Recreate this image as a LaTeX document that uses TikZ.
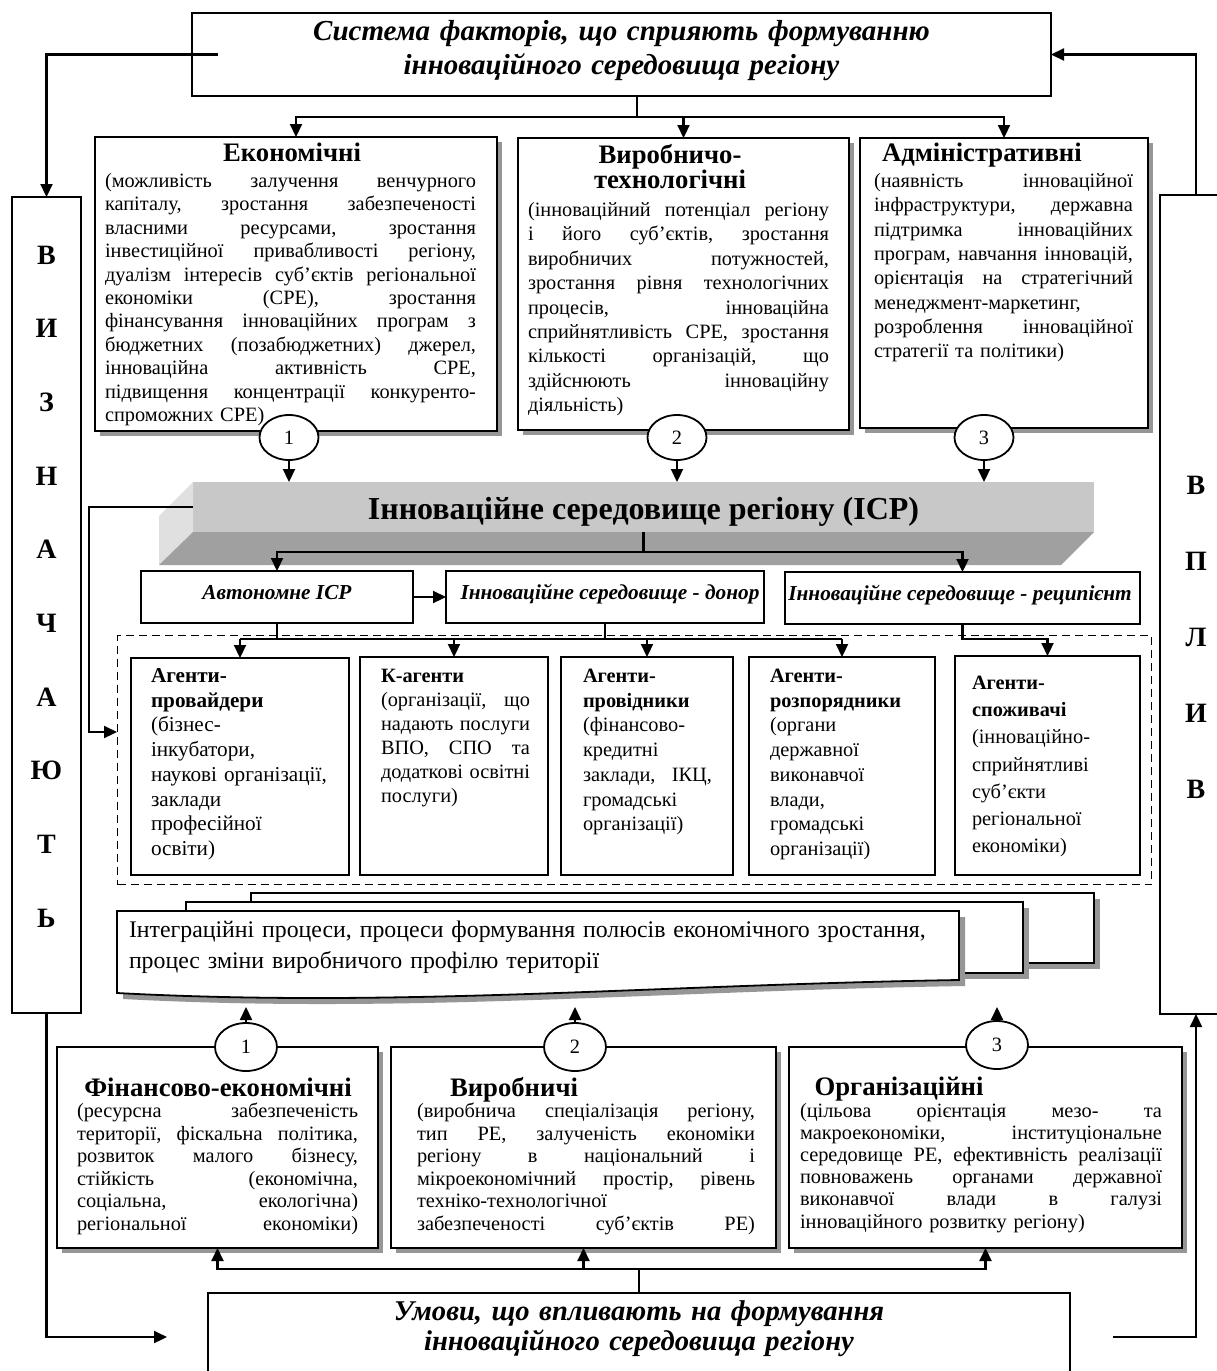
\documentclass[tikz,border=0pt]{standalone}
\usepackage{fontspec}
\setmainfont{Liberation Serif}
\usetikzlibrary{arrows.meta,shapes.geometric,shadows}
\definecolor{icpfront}{RGB}{200,200,200}
\definecolor{icpside}{RGB}{224,224,224}
\definecolor{icpbottom}{RGB}{160,160,160}
\definecolor{shgray}{RGB}{150,150,150}
\newlength\jw
\newcommand\jl[1]{\leavevmode\hbox to\jw{\frenchspacing\spaceskip=0.25em plus 1fil\relax #1}}
\newcommand\fBody{\fontsize{20.35}{23.4}\selectfont}
\newcommand\fAg{\fontsize{20.35}{24.7}\selectfont}
\newcommand\fHead{\fontsize{26.7}{25}\selectfont\bfseries}
\newcommand\fTitle{\fontsize{29}{34}\selectfont\bfseries\itshape}
\newcommand\fLev{\fontsize{21.3}{24}\selectfont\bfseries\itshape}
\newcommand\fICP{\fontsize{32}{36}\selectfont\bfseries}
\begin{document}
\begin{tikzpicture}[x=1pt,y=-1pt,
  boxst/.style={draw, line width=1.8pt, fill=white, inner sep=0pt, outer sep=0pt, anchor=north west},
  sbox/.style={boxst, drop shadow={shadow xshift=5pt, shadow yshift=-5pt, fill=shgray, opacity=1}},
  conn/.style={line width=2.2pt},
  arr/.style={conn, -{Triangle[length=13pt,width=12pt]}},
  txt/.style={inner sep=0pt, outer sep=0pt, align=left, font=\fBody, anchor=base west},
  ctxt/.style={inner sep=0pt, outer sep=0pt, align=center, anchor=base},
  num/.style={draw, ellipse, line width=1.8pt, fill=white, inner sep=0pt, font=\fBody},
]
\useasboundingbox (0,0) rectangle (1216,1371);
\fill[white] (0,0) rectangle (1216,1371);

% ---------- top title box and side boxes
\node[boxst, minimum width=859, minimum height=83] (top) at (192,13) {};
\node[ctxt, text width=850, font=\fTitle] (toptxt) at (621.5,40)
  {Система факторів, що сприяють формуванню\\ інноваційного середовища регіону};
\node[boxst, minimum width=69, minimum height=816] (vleft) at (12,197) {};
\node[boxst, minimum width=72, minimum height=819] (vright) at (1160,195) {};
\node[ctxt, text width=60, font=\fontsize{28}{73.7}\selectfont\bfseries] (lefttxt) at (46.5,264)
  {В\\И\\З\\Н\\А\\Ч\\А\\Ю\\Т\\Ь};
\node[ctxt, text width=60, font=\fontsize{28}{76}\selectfont\bfseries] (righttxt) at (1196,494)
  {В\\П\\Л\\И\\В};

% ---------- factor boxes
\node[sbox, minimum width=402, minimum height=294] (eco) at (95,137) {};
\node[sbox, minimum width=331, minimum height=292] (vyr) at (518,138) {};
\node[sbox, minimum width=288, minimum height=290] (adm) at (860,138) {};

\node[ctxt, font=\fHead] (ecohead) at (292,161) {Економічні};
\node[txt, text width=371] (ecotxt) at (105,187.5) {\setlength\jw{371pt}%
\jl{(можливість залучення венчурного}\\
\jl{капіталу, зростання забезпеченості}\\
\jl{власними ресурсами, зростання}\\
\jl{інвестиційної привабливості регіону,}\\
\jl{дуалізм інтересів суб’єктів регіональної}\\
\jl{економіки (СРЕ), зростання}\\
\jl{фінансування інноваційних програм з}\\
\jl{бюджетних (позабюджетних) джерел,}\\
\jl{інноваційна активність СРЕ,}\\
\jl{підвищення концентрації конкуренто-}\\
спроможних СРЕ)};

\node[ctxt, text width=300, font=\fHead] (vyrhead) at (670,163) {Виробничо-\\технологічні};
\node[txt, text width=301, font=\fontsize{20.35}{24.4}\selectfont] (vyrtxt) at (528,216.5) {\setlength\jw{301pt}%
\jl{(інноваційний потенціал регіону}\\
\jl{і його суб’єктів, зростання}\\
\jl{виробничих потужностей,}\\
\jl{зростання рівня технологічних}\\
\jl{процесів, інноваційна}\\
\jl{сприйнятливість СРЕ, зростання}\\
\jl{кількості організацій, що}\\
\jl{здійснюють інноваційну}\\
діяльність)};

\node[txt, font=\fHead] (admhead) at (882,161) {Адміністративні};
\node[txt, text width=259, font=\fontsize{20.35}{24.3}\selectfont] (admtxt) at (874,187.5) {\setlength\jw{259pt}%
\jl{(наявність інноваційної}\\
\jl{інфраструктури, державна}\\
\jl{підтримка інноваційних}\\
\jl{програм, навчання інновацій,}\\
\jl{орієнтація на стратегічний}\\
менеджмент-маркетинг,\\
\jl{розроблення інноваційної}\\
стратегії та політики)};

% ---------- ICP bar
\node[fill=icpfront, inner sep=0pt, outer sep=0pt, anchor=north west, minimum width=901, minimum height=50] (icp) at (193,482) {};
\fill[icpside] (icp.north west) -- (icp.south west) -- (159,565) -- (159,516) -- cycle;
\fill[icpbottom] (icp.south west) -- (icp.south east) -- (1061,565) -- (159,565) -- cycle;
\node[ctxt, font=\fICP] (icptxt) at (643.5,519) {Інноваційне середовище регіону (ІСР)};

% ---------- level 2
\node[boxst, line width=1.5pt, minimum width=272, minimum height=52] (auto) at (141,571) {};
\node[boxst, line width=1.5pt, minimum width=318, minimum height=52] (donor) at (446,571) {};
\node[boxst, line width=1.5pt, minimum width=355, minimum height=52] (recip) at (785,572) {};
\node[ctxt, font=\fLev] (autotxt) at (277,599) {Автономне ІСР};
\node[ctxt, font=\fLev] (donortxt) at (610,599) {Інноваційне середовище - донор};
\node[ctxt, font=\fLev] (reciptxt) at (960,600) {Інноваційне середовище - реципієнт};

% ---------- agents
\node[draw, dash pattern=on 8pt off 5pt, line width=1.4pt, inner sep=0pt, anchor=north west,
      minimum width=1034, minimum height=249] (dash) at (117,635) {};
\node[boxst, line width=1.6pt, minimum width=218, minimum height=217] (a1) at (131,658) {};
\node[boxst, line width=1.6pt, minimum width=188, minimum height=218] (a2) at (360,657) {};
\node[boxst, line width=1.6pt, minimum width=172, minimum height=218] (a3) at (561,657) {};
\node[boxst, line width=1.6pt, minimum width=186, minimum height=218] (a4) at (749,657) {};
\node[boxst, line width=1.6pt, minimum width=185, minimum height=219] (a5) at (955,656) {};

\node[txt, text width=195, font=\fontsize{21.2}{24.7}\selectfont] (a1txt) at (151,682.5)
  {\textbf{Агенти-}\\ \textbf{провайдери}\\ (бізнес-\\ інкубатори,\\ наукові організації,\\ заклади\\ професійної\\ освіти)};
\node[txt, text width=150, font=\fontsize{20.35}{24}\selectfont] (a2txt) at (381,682.5)
  {\setlength\jw{149pt}\textbf{К-агенти}\\ \jl{(організації, що}\\ \jl{надають послуги}\\ \jl{ВПО, СПО та}\\ \jl{додаткові освітні}\\ послуги)};
\node[txt, text width=129, font=\fAg] (a3txt) at (583,682.5)
  {\setlength\jw{129pt}\textbf{Агенти-}\\ \textbf{провідники}\\ (фінансово-\\ кредитні\\ \jl{заклади, ІКЦ,}\\ громадські\\ організації)};
\node[txt, text width=160, font=\fAg] (a4txt) at (770,682.5)
  {\textbf{Агенти-}\\ \textbf{розпорядники}\\ (органи\\ державної\\ виконавчої\\ влади,\\ громадські\\ організації)};
\node[txt, text width=160, font=\fontsize{20.35}{27.2}\selectfont] (a5txt) at (972,689.5)
  {\textbf{Агенти-}\\ \textbf{споживачі}\\ (інноваційно-\\ сприйнятливі\\ суб'єкти\\ регіональної\\ економіки)};

% ---------- integration pages
\fill[shgray] (257,899) rectangle (1100,969);
\filldraw[fill=white, line width=1.8pt] (251,893) rectangle (1094,963);
\fill[shgray] (192,908) rectangle (1029,979);
\filldraw[fill=white, line width=1.8pt] (186,902) rectangle (1023,973);
\fill[shgray] (123,917) -- (965,917) -- (965,986) .. controls (656,991) and (406,1014) .. (123,999) -- cycle;
\filldraw[fill=white, line width=1.8pt] (117,911) -- (959,911) -- (959,980) .. controls (650,985) and (400,1008) .. (117,993) -- cycle;
\node[txt, text width=835, font=\fontsize{23.8}{31}\selectfont] (integ) at (129,937)
  {Інтеграційні процеси, процеси формування полюсів економічного зростання,\\ процес зміни виробничого профілю території};

% ---------- bottom boxes
\node[sbox, minimum width=321, minimum height=201] (b1) at (57,1047) {};
\node[sbox, minimum width=385, minimum height=201] (b2) at (391,1047) {};
\node[sbox, minimum width=393, minimum height=201] (b3) at (789,1047) {};
\node[ctxt, font=\fHead] (b1head) at (218,1096) {Фінансово-економічні};
\node[ctxt, font=\fHead] (b2head) at (514,1096) {Виробничі};
\node[ctxt, font=\fHead] (b3head) at (899,1095) {Організаційні};
\node[txt, text width=281, font=\fontsize{20.35}{22.6}\selectfont] (b1txt) at (77,1117.5) {\setlength\jw{281pt}%
\jl{(ресурсна забезпеченість}\\
\jl{території, фіскальна політика,}\\
\jl{розвиток малого бізнесу,}\\
\jl{стійкість (економічна,}\\
\jl{соціальна, екологічна)}\\
\jl{регіональної економіки)}};
\node[txt, text width=338, font=\fontsize{20.35}{22.6}\selectfont] (b2txt) at (417,1117.5) {\setlength\jw{338pt}%
\jl{(виробнича спеціалізація регіону,}\\
\jl{тип РЕ, залученість економіки}\\
\jl{регіону в національний і}\\
\jl{мікроекономічний простір, рівень}\\
техніко-технологічної\\
\jl{забезпеченості суб'єктів РЕ)}};
\node[txt, text width=362, font=\fontsize{20.35}{22.1}\selectfont] (b3txt) at (800,1117.5) {\setlength\jw{362pt}%
\jl{(цільова орієнтація мезо- та}\\
\jl{макроекономіки, інституціональне}\\
\jl{середовище РЕ, ефективність реалізації}\\
\jl{повноважень органами державної}\\
\jl{виконавчої влади в галузі}\\
інноваційного розвитку регіону)};

\node[boxst, minimum width=862, minimum height=110] (umovy) at (208,1293) {};
\node[ctxt, text width=850, font=\fontsize{28.6}{30}\selectfont\bfseries\itshape] (umovytxt) at (639,1320)
  {Умови, що впливають на формування\\ інноваційного середовища регіону};

% ---------- circles
\node[num, minimum width=59, minimum height=45] (ct1) at (289,437.5) {1};
\node[num, minimum width=59, minimum height=45] (ct2) at (677,437.5) {2};
\node[num, minimum width=59, minimum height=45] (ct3) at (984,437.5) {3};
\node[num, minimum width=62, minimum height=48] (cb1) at (246,1047) {1};
\node[num, minimum width=62, minimum height=48] (cb2) at (575,1047) {2};
\node[num, minimum width=62, minimum height=48] (cb3) at (997,1045) {3};

% ---------- coordinates
\coordinate (j1) at (637,117);
\coordinate (lx) at (89,0);
\coordinate (dl) at (117,732);
\coordinate (lj) at (643.5,552);
\coordinate (aj) at (0,639);
\coordinate (ya) at (0,1007);
\coordinate (bj) at (639,1269);
\coordinate (lend) at (167,1337);
\coordinate (rstart) at (1113,1337);

% ---------- connectors
\draw[arr] ([xshift=26pt]top.west) -| (vleft.north);
\draw[arr] (vright.north) |- (top.east);
\draw[conn] (top.south -| j1) -- (j1);
\draw[arr] (j1) -| (eco.north);
\draw[arr] (j1) -| (vyr.north);
\draw[arr] (j1) -| (adm.north);

\draw[arr] (ct1.south) -- (ct1.south |- icp.north);
\draw[arr] (ct2.south) -- (ct2.south |- icp.north);
\draw[arr] (ct3.south) -- (ct3.south |- icp.north);

\draw[arr] (icp.west) -- (icp.west -| lx) |- (dl);
\draw[conn] (icp.south) -- (lj);
\draw[arr] (lj) -| (auto.north);
\draw[arr] (lj) -| (recip.north);
\draw[arr] (auto.east) -- (donor.west);

\draw[conn] (auto.south) -- (auto.south |- aj);
\draw[conn] (donor.south) -- (donor.south |- aj);
\draw[conn] (a1.north |- aj) -- (a4.north |- aj);
\draw[arr] (a1.north |- aj) -- (a1.north);
\draw[arr] (a2.north |- aj) -- (a2.north);
\draw[arr] (a3.north |- aj) -- (a3.north);
\draw[arr] (a4.north |- aj) -- (a4.north);
\draw[arr] (recip.south) -- (recip.south |- aj) -| (a5.north);

\draw[arr] (cb1.north) -- (cb1.north |- ya);
\draw[arr] (cb2.north) -- (cb2.north |- ya);
\draw[arr] (cb3.north) -- (cb3.north |- ya);

\draw[conn] (umovy.north) -- (bj);
\draw[arr] (bj) -| (b1.south);
\draw[arr] (bj) -| (b2.south);
\draw[arr] (bj) -| (b3.south);

\draw[arr] (vleft.south) |- (lend);
\draw[arr] (rstart) -| (vright.south);
\end{tikzpicture}
\end{document}
